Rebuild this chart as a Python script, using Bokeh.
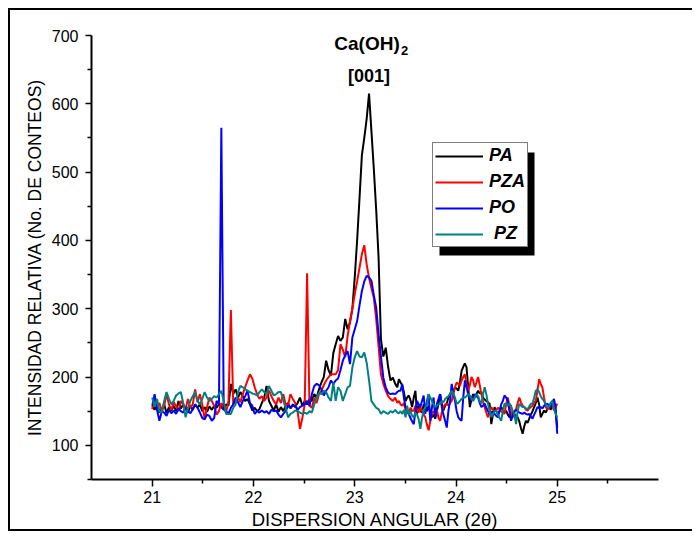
import numpy as np
from bokeh.plotting import figure
from bokeh.models import Range1d, FixedTicker, Legend, LegendItem, Label, BoxAnnotation
from bokeh.embed import file_html
from bokeh.resources import INLINE

# ---------------- data ----------------
# 2-theta positions of the readings (two scan segments)
theta_seg1 = np.linspace(21.0, 23.40, 103)
theta_seg2 = np.linspace(23.42, 25.0, 98)
two_theta = np.concatenate([theta_seg1, theta_seg2])

PA = [
    158, 152, 163, 148, 153, 160, 147, 156, 151, 158, 150, 165, 154, 160, 153, 148, 158, 152, 160, 155,
    160, 150, 156, 149, 157, 152, 158, 155, 160, 156, 152, 160, 158, 190, 175, 182, 170, 178, 172, 165,
    168, 160, 151, 155, 150, 153, 162, 170, 187, 165, 158, 151, 160, 149, 156, 150, 158, 162, 154, 160,
    156, 162, 170, 158, 165, 160, 168, 165, 175, 170, 182, 192, 200, 224, 210, 202, 235, 248, 260, 253,
    258, 285, 270, 280, 300, 346, 400, 462, 525, 550, 578, 615, 560, 505, 445, 375, 255, 230, 243, 215,
    195, 199, 190, 185, 197, 192, 188, 178, 165, 170, 173, 166, 156, 170, 180, 146, 158, 150, 148, 160,
    156, 150, 158, 147, 141, 145, 139, 150, 161, 175, 160, 151, 158, 161, 170, 175, 180, 178, 185, 183,
    180, 192, 209, 215, 220, 214, 185, 156, 168, 175, 170, 175, 180, 176, 178, 170, 167, 165, 163, 161,
    131, 145, 156, 150, 146, 150, 156, 152, 148, 151, 145, 141, 144, 148, 146, 143, 141, 135, 125, 117,
    128, 136, 133, 139, 145, 150, 156, 162, 170, 160, 141, 146, 151, 148, 153, 156, 152, 158, 161, 150,
    126]

PZA = [
    153, 170, 156, 162, 150, 158, 175, 160, 152, 163, 158, 150, 165, 160, 153, 168, 155, 160, 182, 163,
    175, 160, 138, 156, 170, 165, 158, 145, 150, 162, 155, 148, 165, 298, 160, 165, 170, 163, 175, 185,
    195, 204, 198, 185, 175, 168, 172, 165, 170, 180, 172, 165, 160, 170, 162, 175, 160, 158, 175, 168,
    162, 150, 124, 140, 160, 352, 158, 155, 170, 162, 175, 180, 188, 195, 200, 204, 204, 204, 210, 248,
    240, 229, 260, 282, 300, 321, 340, 360, 380, 393, 365, 345, 330, 316, 285, 245, 204, 190, 180, 172,
    168, 165, 170, 162, 165, 160, 158, 162, 152, 150, 146, 155, 150, 151, 158, 153, 148, 156, 151, 145,
    141, 130, 122, 135, 146, 150, 146, 152, 140, 136, 148, 156, 160, 161, 158, 162, 165, 175, 185, 192,
    190, 187, 195, 200, 204, 190, 180, 188, 200, 195, 185, 192, 200, 188, 175, 165, 156, 148, 141, 150,
    156, 152, 150, 151, 155, 153, 150, 148, 146, 160, 170, 158, 148, 141, 148, 153, 162, 170, 163, 158,
    156, 152, 151, 154, 156, 158, 162, 165, 180, 197, 190, 185, 170, 156, 153, 155, 161, 158, 151, 156,
    161]

PO = [
    158, 175, 152, 136, 150, 148, 143, 152, 147, 151, 146, 154, 150, 148, 155, 150, 147, 153, 160, 155,
    148, 140, 138, 145, 143, 136, 140, 165, 160, 565, 153, 150, 146, 155, 160, 170, 163, 156, 165, 172,
    180, 162, 158, 146, 150, 148, 151, 148, 150, 146, 152, 150, 151, 145, 141, 146, 150, 158, 155, 158,
    158, 152, 156, 158, 160, 165, 158, 175, 187, 190, 188, 182, 173, 180, 185, 195, 190, 195, 198, 210,
    224, 232, 238, 219, 258, 270, 282, 305, 326, 340, 348, 346, 341, 320, 302, 263, 230, 199, 185, 177,
    175, 176, 175, 178, 180, 180, 190, 170, 156, 150, 146, 140, 135, 131, 150, 165, 160, 156, 165, 173,
    146, 165, 175, 136, 155, 170, 141, 160, 168, 175, 156, 145, 136, 126, 150, 165, 190, 175, 165, 150,
    141, 138, 136, 170, 195, 185, 175, 170, 165, 170, 175, 172, 170, 162, 156, 158, 161, 155, 150, 146,
    148, 150, 146, 143, 141, 150, 160, 165, 173, 170, 165, 150, 136, 143, 150, 152, 150, 148, 147, 146,
    148, 146, 145, 146, 142, 139, 145, 150, 156, 155, 156, 154, 158, 160, 161, 158, 155, 162, 168, 156,
    117]

PZ = [
    170, 156, 168, 150, 148, 165, 178, 168, 160, 165, 173, 176, 178, 162, 141, 155, 165, 172, 178, 165,
    160, 168, 178, 170, 165, 168, 172, 170, 175, 180, 165, 146, 146, 146, 155, 160, 178, 187, 185, 182,
    180, 178, 176, 175, 173, 178, 182, 178, 175, 187, 180, 173, 175, 178, 178, 165, 155, 141, 146, 148,
    151, 150, 148, 146, 148, 146, 150, 148, 160, 170, 177, 175, 180, 178, 170, 165, 192, 165, 185, 180,
    165, 175, 185, 187, 214, 229, 238, 230, 229, 236, 221, 195, 165, 160, 155, 153, 146, 150, 148, 146,
    150, 148, 152, 148, 147, 150, 146, 152, 141, 158, 145, 150, 143, 141, 148, 145, 138, 124, 140, 151,
    156, 160, 175, 170, 165, 160, 156, 158, 160, 161, 165, 163, 168, 170, 172, 175, 180, 176, 170, 161,
    162, 165, 168, 170, 170, 172, 175, 173, 168, 165, 170, 175, 172, 165, 161, 175, 185, 175, 161, 150,
    141, 146, 150, 151, 145, 140, 136, 150, 161, 160, 158, 161, 158, 150, 146, 131, 150, 161, 158, 156,
    156, 154, 153, 157, 161, 161, 170, 180, 182, 178, 172, 168, 165, 160, 156, 156, 162, 165, 155, 146,
    141]

series_names = ["PA", "PZA", "PO", "\u00a0PZ"]
series_values = [PA, PZA, PO, PZ]
series_colors = ["#000000", "#FF0000", "#0000FF", "#008080"]

x_major = [21, 22, 23, 24, 25]
x_minor = [21.5, 22.5, 23.5, 24.5, 25.5]
y_major = [100, 200, 300, 400, 500, 600, 700]
y_minor = [50, 150, 250, 350, 450, 550, 650]

x_title = "DISPERSION ANGULAR (2\u03b8)"
y_title = "INTENSIDAD RELATIVA (No. DE CONTEOS)"

for s in series_values:
    assert len(s) == len(two_theta)

# ---------------- layout ----------------
FONT = "Liberation Sans"
X0, X1 = 20.4, 26.0
Y0, Y1 = 50, 700
FRAME_L, FRAME_R, FRAME_T, FRAME_B = 91, 658, 35, 479   # page pixels
CANVAS_X, CANVAS_Y = 10, 10
W, H = 684, 523


def px_x(px):
    return X0 + (px - FRAME_L) * (X1 - X0) / (FRAME_R - FRAME_L)


def px_y(py):
    return Y0 + (FRAME_B - py) * (Y1 - Y0) / (FRAME_B - FRAME_T)


p = figure(width=W, height=H, output_backend="svg", toolbar_location=None,
           x_range=Range1d(X0, X1), y_range=Range1d(Y0, Y1),
           min_border_left=FRAME_L - CANVAS_X,
           min_border_right=CANVAS_X + W - FRAME_R,
           min_border_top=FRAME_T - CANVAS_Y,
           min_border_bottom=CANVAS_Y + H - FRAME_B,
           styles={"margin-left": "8px", "margin-top": "8px",
                   "border-left": "2px solid black", "border-top": "2px solid black",
                   "border-bottom": "2px solid black"})
p.background_fill_color = "white"
p.border_fill_color = "white"
p.outline_line_color = None
p.xgrid.visible = False
p.ygrid.visible = False

renderers = []
for vals, col in zip(series_values, series_colors):
    r = p.line(two_theta, vals, line_color=col, line_width=2)
    renderers.append(r)

xa = p.xaxis[0]
ya = p.yaxis[0]
xa.ticker = FixedTicker(ticks=x_major, minor_ticks=x_minor)
ya.ticker = FixedTicker(ticks=y_major, minor_ticks=y_minor)
for ax in (xa, ya):
    ax.axis_line_color = "black"
    ax.axis_line_width = 2
    ax.major_tick_line_color = "black"
    ax.minor_tick_line_color = "black"
    ax.major_tick_line_width = 1.5
    ax.minor_tick_line_width = 1.5
    ax.major_tick_in = 0
    ax.minor_tick_in = 0
    ax.major_label_text_font = FONT
    ax.major_label_text_font_size = "16px"
    ax.major_label_text_color = "black"
    ax.axis_label_text_font = FONT
    ax.axis_label_text_font_style = "normal"
    ax.axis_label_text_color = "black"

xa.axis_label = x_title
xa.axis_label_text_font_size = "18.5px"
xa.major_tick_out = 7
xa.minor_tick_out = 4
xa.major_label_standoff = 4
xa.axis_label_standoff = 3

ya.axis_label = y_title
ya.axis_label_text_font_size = "17.5px"
ya.major_tick_out = 6
ya.minor_tick_out = 4
ya.major_label_standoff = 7
ya.axis_label_standoff = 4

# peak annotation
p.add_layout(Label(x=px_x(366.5), y=px_y(42.7), text="Ca(OH)", text_font=FONT,
                   text_font_size="19px", text_font_style="bold", text_align="center",
                   text_baseline="alphabetic", text_color="black"))
p.add_layout(Label(x=px_x(400.5), y=px_y(50), text="2", text_font=FONT,
                   text_font_size="13px", text_font_style="bold", text_align="left",
                   text_baseline="alphabetic", text_color="black"))
p.add_layout(Label(x=px_x(368.5), y=px_y(75), text="[001]", text_font=FONT,
                   text_font_size="18px", text_font_style="bold", text_align="center",
                   text_baseline="alphabetic", text_color="black"))

# legend with drop shadow
shadow = BoxAnnotation(left=px_x(439), right=px_x(534), top=px_y(152), bottom=px_y(255),
                       fill_color="black", fill_alpha=1.0, line_alpha=0)
p.add_layout(shadow)

legend = Legend(items=[LegendItem(label=n, renderers=[r]) for n, r in zip(series_names, renderers)],
                location=(432 - FRAME_L, FRAME_B - 247))
legend.border_line_color = "black"
legend.border_line_width = 1
legend.background_fill_color = "white"
legend.background_fill_alpha = 1.0
legend.padding = 2
legend.spacing = 5
legend.margin = 0
legend.glyph_width = 48
legend.glyph_height = 20
legend.label_height = 20
legend.label_standoff = 6
legend.label_text_font = FONT
legend.label_text_font_size = "18px"
legend.label_text_font_style = "bold italic"
legend.label_text_color = "black"
p.add_layout(legend)

open("out.html", "w").write(file_html(p, INLINE))
